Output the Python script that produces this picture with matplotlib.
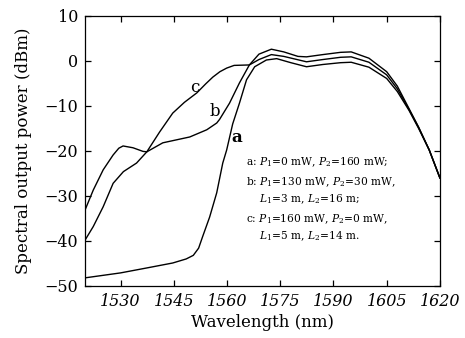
import matplotlib
matplotlib.use("Agg")
import matplotlib.pyplot as plt

plt.rcParams['font.family'] = ['DejaVu Serif']
plt.rcParams['mathtext.fontset'] = 'dejavuserif'

# curve a: P1=0, P2=160 mW
wl_a = [1520, 1530, 1537.4, 1544.7, 1548.5, 1550.5, 1552, 1553.1, 1555.1, 1557.1, 1558.8,
        1559.9, 1561.6, 1563.5, 1565.5, 1567.8, 1571.1, 1574, 1578, 1582.4, 1587,
        1592, 1595, 1600, 1605, 1608, 1611.3, 1614, 1617, 1620]
db_a = [-48.2, -47.1, -46, -44.9, -44.0, -43.2, -41.6, -39.1, -34.7, -29.3, -22.7,
        -19.8, -14, -9.4, -4.2, -1.3, 0.2, 0.5, -0.4, -1.3, -0.8,
        -0.4, -0.3, -1.4, -3.9, -6.8, -11.0, -15.0, -19.8, -26]

# curve b: P1=130, P2=30 mW
wl_b = [1520, 1522.3, 1525.1, 1527.9, 1529.5, 1530.7, 1533.5, 1536.3, 1537.4, 1541.9, 1549.5,
        1554.3, 1557.1, 1557.9, 1560.7, 1563.5, 1566.3, 1569, 1572.5, 1576, 1580,
        1582.4, 1587, 1592, 1595, 1600, 1605, 1608, 1611.3, 1614, 1617, 1620]
db_b = [-33.1, -28.7, -24.2, -20.9, -19.4, -18.9, -19.3, -20.1, -20.2, -18.2, -16.9,
        -15.3, -13.8, -13, -9.4, -4.9, -0.9, 1.5, 2.6, 2.0, 1.0,
        0.9, 1.4, 1.9, 2.0, 0.6, -2.4, -5.6, -10.6, -14.7, -19.8, -26]

# curve c: P1=160, P2=0 mW
wl_c = [1520, 1522.3, 1525.1, 1527.9, 1530.8, 1534.5, 1537.4, 1541, 1544.7, 1548, 1551.5,
        1554, 1556, 1558, 1559.9, 1562, 1566.3, 1569, 1572.5, 1576, 1582.4, 1587, 1592,
        1595, 1600, 1605, 1608, 1611.3, 1614, 1617, 1620]
db_c = [-39.8, -36.8, -32.4, -27.2, -24.6, -22.7, -20.2, -15.8, -11.6, -9.2, -7.1,
        -5.1, -3.6, -2.4, -1.6, -1.0, -0.9, 0.3, 1.4, 1.0, -0.2, 0.3, 0.8,
        0.9, -0.3, -3.1, -6.2, -10.8, -14.8, -19.8, -26]

legend_lines = [r"a: $P_1$=0 mW, $P_2$=160 mW;",
                r"b: $P_1$=130 mW, $P_2$=30 mW,",
                r"    $L_1$=3 m, $L_2$=16 m;",
                r"c: $P_1$=160 mW, $P_2$=0 mW,",
                r"    $L_1$=5 m, $L_2$=14 m."]
legend_y = [-22.4, -26.9, -30.7, -35.1, -38.9]

fig = plt.figure(figsize=(4.65, 3.38), dpi=100)
ax = fig.add_axes([0.183, 0.154, 0.763, 0.799])

for w, d in [(wl_a, db_a), (wl_b, db_b), (wl_c, db_c)]:
    ax.plot(w, d, color='black', lw=1.0)

ax.text(1551, -5.8, 'c', fontsize=12, ha='center', va='center')
ax.text(1556.5, -11.3, 'b', fontsize=12, ha='center', va='center')
ax.text(1562.7, -17.1, 'a', fontsize=12, ha='center', va='center', fontweight='bold')

for s, y in zip(legend_lines, legend_y):
    ax.text(1565.4, y, s, fontsize=7.7, ha='left', va='center')

ax.set_xlim(1520, 1620)
ax.set_ylim(-50, 10)
ax.set_xticks([1530, 1545, 1560, 1575, 1590, 1605, 1620])
ax.set_yticks([-50, -40, -30, -20, -10, 0, 10])
ax.tick_params(direction='in', top=True, right=True, length=4, labelsize=11.5,
               width=0.9, pad=5)
for lbl in ax.get_xticklabels():
    lbl.set_fontstyle('italic')
for sp in ax.spines.values():
    sp.set_linewidth(0.9)
ax.set_xlabel('Wavelength (nm)', fontsize=12, labelpad=3)
ax.set_ylabel('Spectral output power (dBm)', fontsize=12, labelpad=9)

fig.savefig('out.png', dpi=100)
